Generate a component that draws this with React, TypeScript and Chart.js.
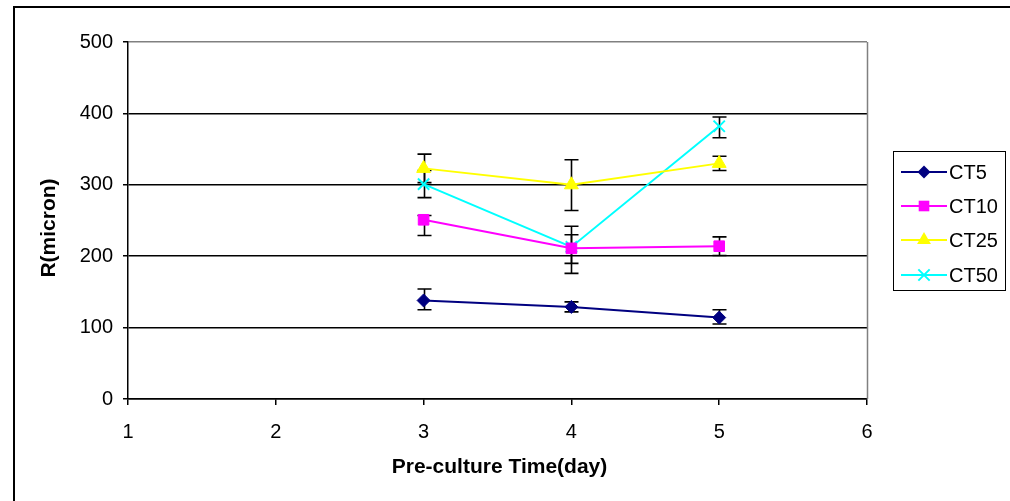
import React, { useEffect, useRef } from "react";
import { Chart, registerables } from "chart.js";

Chart.register(...registerables);

const days = [3, 4, 5];
const xTicks = [1, 2, 3, 4, 5, 6];
const yTicks = [0, 100, 200, 300, 400, 500];
const seriesNames = ["CT5", "CT10", "CT25", "CT50"];
const seriesColors = ["#000080", "#FF00FF", "#FFFF00", "#00FFFF"];
const seriesMarkers = ["rectRot", "rect", "triangle", "crossRot"];
const seriesRadius = [6.5, 7.5, 8, 8];

const ct5 = [138, 129, 114];
const ct10 = [251, 211, 214];
const ct25 = [323, 300, 330];
const ct50 = [301, 213, 382];

const ct5ErrPlus = [16, 7, 11];
const ct5ErrMinus = [13, 7, 9];
const ct10ErrPlus = [6, 19, 13];
const ct10ErrMinus = [22, 21, 13];
const ct25ErrPlus = [20, 35, 10];
const ct25ErrMinus = [20, 36, 10];
const ct50ErrPlus = [19, 29, 13];
const ct50ErrMinus = [19, 37, 16];

const xTitle = "Pre-culture Time(day)";
const yTitle = "R(micron)";

const FONT = "Arial, 'Liberation Sans', sans-serif";

const seriesValues = [ct5, ct10, ct25, ct50];
const errPlus = [ct5ErrPlus, ct10ErrPlus, ct25ErrPlus, ct50ErrPlus];
const errMinus = [ct5ErrMinus, ct10ErrMinus, ct25ErrMinus, ct50ErrMinus];

function drawMarker(ctx: CanvasRenderingContext2D, style: string, x: number, y: number, r: number, color: string) {
  ctx.save();
  ctx.fillStyle = color;
  ctx.strokeStyle = color;
  ctx.lineWidth = 2;
  ctx.beginPath();
  if (style === "rectRot") {
    ctx.moveTo(x, y - r);
    ctx.lineTo(x + r, y);
    ctx.lineTo(x, y + r);
    ctx.lineTo(x - r, y);
    ctx.closePath();
    ctx.fill();
  } else if (style === "rect") {
    const s = r * Math.SQRT1_2;
    ctx.rect(x - s, y - s, 2 * s, 2 * s);
    ctx.fill();
  } else if (style === "triangle") {
    ctx.moveTo(x, y - r);
    ctx.lineTo(x + r * 0.866, y + r * 0.5);
    ctx.lineTo(x - r * 0.866, y + r * 0.5);
    ctx.closePath();
    ctx.fill();
  } else {
    const d = r * Math.SQRT1_2;
    ctx.moveTo(x - d, y - d);
    ctx.lineTo(x + d, y + d);
    ctx.moveTo(x + d, y - d);
    ctx.lineTo(x - d, y + d);
    ctx.stroke();
  }
  ctx.restore();
}

const errorBarPlugin = {
  id: "errorBars",
  beforeDatasetsDraw(chart: any) {
    const ctx = chart.ctx;
    const xs = chart.scales.x;
    const ys = chart.scales.y;
    ctx.save();
    ctx.strokeStyle = "#000";
    ctx.lineWidth = 1.6;
    seriesValues.forEach((vals, si) => {
      vals.forEach((v, i) => {
        const px = Math.round(xs.getPixelForValue(days[i])) + 0.5;
        const top = ys.getPixelForValue(v + errPlus[si][i]);
        const bot = ys.getPixelForValue(v - errMinus[si][i]);
        ctx.beginPath();
        ctx.moveTo(px, top);
        ctx.lineTo(px, bot);
        ctx.moveTo(px - 7, top);
        ctx.lineTo(px + 7, top);
        ctx.moveTo(px - 7, bot);
        ctx.lineTo(px + 7, bot);
        ctx.stroke();
      });
    });
    ctx.restore();
  },
};

const decorPlugin = {
  id: "decor",
  afterDraw(chart: any) {
    const ctx = chart.ctx;
    const { left, right, top, bottom } = chart.chartArea;
    ctx.save();
    ctx.strokeStyle = "#808080";
    ctx.lineWidth = 1.5;
    ctx.beginPath();
    ctx.moveTo(Math.round(right) + 0.5, top);
    ctx.lineTo(Math.round(right) + 0.5, bottom);
    ctx.stroke();

    ctx.fillStyle = "#000";
    ctx.font = `bold 21px ${FONT}`;
    ctx.textAlign = "center";
    ctx.textBaseline = "middle";
    ctx.fillText(xTitle, (left + right) / 2 + 2, 467);
    ctx.save();
    ctx.translate(49, 228);
    ctx.rotate(-Math.PI / 2);
    ctx.fillText(yTitle, 0, 0);
    ctx.restore();

    const lx = 893, ly = 151, lw = 112, lh = 139;
    ctx.strokeStyle = "#000";
    ctx.lineWidth = 1;
    ctx.strokeRect(lx + 0.5, ly + 0.5, lw, lh);
    const rowY = [172, 206, 240, 275];
    ctx.font = `20px ${FONT}`;
    ctx.textAlign = "left";
    seriesNames.forEach((name, i) => {
      const y = rowY[i];
      ctx.strokeStyle = seriesColors[i];
      ctx.lineWidth = 2;
      ctx.beginPath();
      ctx.moveTo(901, y);
      ctx.lineTo(947, y);
      ctx.stroke();
      drawMarker(ctx, seriesMarkers[i], 924, y, seriesRadius[i], seriesColors[i]);
      ctx.fillStyle = "#000";
      ctx.fillText(name, 949, y + 1);
    });
    ctx.restore();
  },
};

export default function App() {
  const ref = useRef<HTMLCanvasElement | null>(null);

  useEffect(() => {
    if (!ref.current) return;
    const datasets = seriesNames.map((name, i) => ({
      label: name,
      data: days.map((d, j) => ({ x: d, y: seriesValues[i][j] })),
      borderColor: seriesColors[i],
      backgroundColor: seriesColors[i],
      borderWidth: 2,
      pointStyle: seriesMarkers[i],
      pointRadius: seriesRadius[i],
      pointBorderWidth: i === 3 ? 2 : 1,
      pointBorderColor: seriesColors[i],
      pointBackgroundColor: seriesColors[i],
      tension: 0,
      fill: false,
    }));
    const chart = new Chart(ref.current, {
      type: "line",
      data: { datasets },
      plugins: [errorBarPlugin, decorPlugin],
      options: {
        responsive: false,
        animation: false,
        layout: { padding: { top: 42, right: 143, left: 0, bottom: 0 } },
        plugins: { legend: { display: false }, tooltip: { enabled: false } },
        scales: {
          x: {
            type: "linear",
            min: 1,
            max: 6,
            afterBuildTicks: (s: any) => {
              s.ticks = xTicks.map((v) => ({ value: v }));
            },
            afterFit: (s: any) => {
              s.height = 102;
            },
            ticks: { color: "#000", font: { family: FONT, size: 20 }, padding: 15, maxRotation: 0 },
            grid: { drawOnChartArea: false, drawTicks: true, tickLength: 6, color: "#000", lineWidth: 1.5 },
            border: { color: "#000", width: 1.5 },
          },
          y: {
            min: 0,
            max: 500,
            afterBuildTicks: (s: any) => {
              s.ticks = yTicks.map((v) => ({ value: v }));
            },
            afterFit: (s: any) => {
              s.width = 128;
            },
            ticks: { color: "#000", font: { family: FONT, size: 20 }, padding: 10 },
            grid: {
              color: (c: any) => (c.tick && c.tick.value === 500 ? "#808080" : "#000"),
              tickColor: "#000",
              tickLength: 5,
              lineWidth: 1.5,
            },
            border: { color: "#000", width: 1.5 },
          },
        },
      },
    } as any);
    return () => chart.destroy();
  }, []);

  return (
    <div style={{ position: "absolute", left: 0, top: 0, width: 1010, height: 501, overflow: "hidden", background: "#fff" }}>
      <div
        style={{
          position: "absolute",
          left: 13,
          top: 6,
          width: 1100,
          height: 600,
          borderLeft: "2px solid #000",
          borderTop: "2px solid #000",
        }}
      />
      <canvas ref={ref} width={1010} height={501} style={{ position: "absolute", left: 0, top: 0 }} />
    </div>
  );
}
